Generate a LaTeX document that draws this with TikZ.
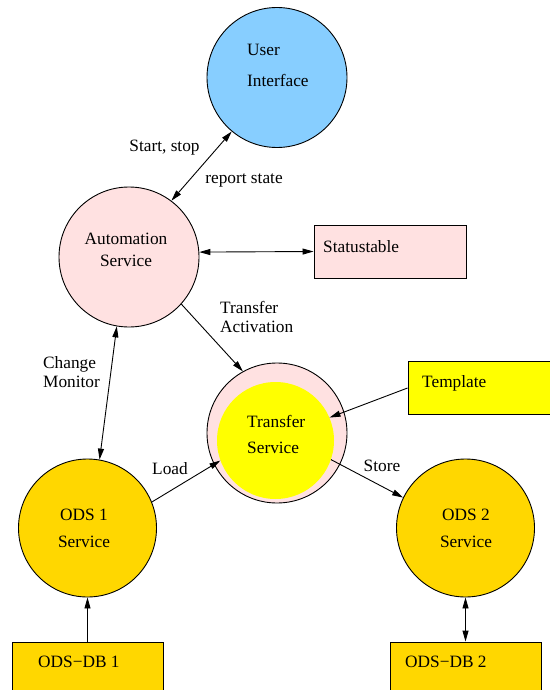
\documentclass[tikz,border=0pt]{standalone}
\usepackage{fontspec}
\setmainfont{Liberation Serif}
\usepackage{xcolor}
\usetikzlibrary{arrows.meta}

\definecolor{uiblue}{RGB}{135,206,255}
\definecolor{pinkish}{RGB}{255,225,225}
\definecolor{gold}{RGB}{255,215,0}
\definecolor{yel}{RGB}{255,255,0}

\begin{document}
\begin{tikzpicture}[
  x=1pt, y=-1pt, font={\fontsize{17.3}{19}\selectfont},
  >={Triangle[length=11pt,width=6pt]},
  svc/.style={circle, draw, line width=0.9pt, inner sep=0pt, minimum size=140pt},
  store/.style={rectangle, draw, line width=0.9pt, inner sep=0pt,
                minimum width=152pt, minimum height=53pt},
  txt/.style={inner sep=0pt, align=left},
  ar/.style={line width=0.9pt},
]
\useasboundingbox (0,0) rectangle (549,690);
% services
\node[svc, fill=uiblue] (ui) at (277,77.5) {};
\node[svc, fill=pinkish] (auto) at (129,257) {};
\node[svc, fill=pinkish] (trO) at (277,433) {};
\node[circle, fill=yel, inner sep=0pt, minimum size=117pt] (trI) at (275.5,440.5) {};
\node[svc, fill=gold, minimum size=138pt] (ods1) at (87.5,528) {};
\node[svc, fill=gold, minimum size=138pt] (ods2) at (465.5,528) {};
% tables
\node[store, fill=pinkish] (stat) at (390,251.5) {};
\node[store, fill=yel] (tmpl) at (484,388) {};
\node[store, fill=gold, minimum width=151pt] (db1) at (87.5,668.5) {};
\node[store, fill=gold, minimum width=151pt] (db2) at (465.5,668.5) {};
% texts
\node[txt, anchor=west] (uiT) at (247,65.5) {User\\[12pt]Interface};
\node[txt, align=center] (autoT) at (126,250) {Automation\\[3pt]Service};
\node[txt, anchor=west] (trT) at (247,434) {Transfer\\[7pt]Service};
\node[txt, align=center] (ods1T) at (84,528.5) {ODS 1\\[8pt]Service};
\node[txt, align=center] (ods2T) at (466,528.5) {ODS 2\\[8pt]Service};
\node[txt, anchor=west] (statT) at (323,247) {Statustable};
\node[txt, anchor=west] (tmplT) at (422,383) {Template};
\node[txt, anchor=west] (db1T) at (38,662) {ODS−DB 1};
\node[txt, anchor=west] (db2T) at (405,662) {ODS−DB 2};
% labels
\node[txt] (lStart) at (164.5,148) {Start, stop};
\node[txt] (lReport) at (244,180) {report state};
\node[txt, anchor=west] (lAct) at (220,316.5) {Transfer\\Activation};
\node[txt, anchor=west] (lMon) at (43,372.5) {Change\\Monitor};
\node[txt] (lLoad) at (170,469) {Load};
\node[txt] (lStore) at (382,466) {Store};
% connectors
\draw[ar, <->] (ui.230.5) -- (auto.53);
\draw[ar, <->] (auto.4) -- (stat.west);
\draw[ar, ->] (auto.-42) -- (trO.119.8);
\draw[ar, <->] (auto.260.4) -- (ods1.80.3);
\draw[ar, ->] (ods1.22.6) -- (trI.200);
\draw[ar, ->] (trI.-19.7) -- (ods2.154.5);
\draw[ar, ->] (tmpl.west) -- (trI.23.6);
\draw[ar, ->] (db1.north) -- (ods1.south);
\draw[ar, <->] (ods2.south) -- (db2.north);
\end{tikzpicture}
\end{document}
